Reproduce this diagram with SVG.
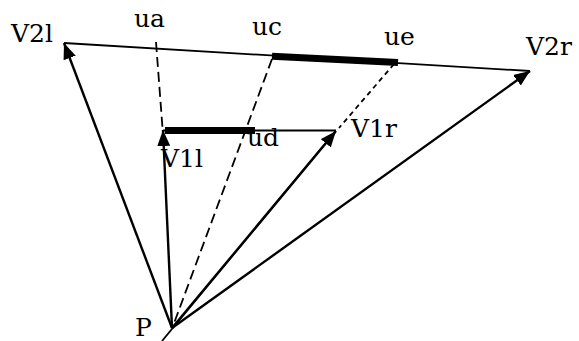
<svg xmlns="http://www.w3.org/2000/svg" width="579" height="341" viewBox="0 0 579 341">
  <style>
    text { font-family: "DejaVu Serif", "Liberation Serif", serif; font-size: 25px; fill: #000; }
    .thin { stroke: #000; stroke-width: 1.8; fill: none; }
    .arrow { stroke: #000; stroke-width: 2.4; fill: none; marker-end: url(#ah); }
    .thick { stroke: #000; stroke-width: 7; fill: none; stroke-linecap: butt; }
    .dashL { stroke: #000; stroke-width: 1.8; fill: none; stroke-dasharray: 10 5; }
    .dashS { stroke: #000; stroke-width: 1.8; fill: none; stroke-dasharray: 5 4; }
  </style>
  <defs>
    <marker id="ah" markerUnits="userSpaceOnUse" markerWidth="18" markerHeight="14" refX="16" refY="6.5" orient="auto">
      <path d="M0,0 L16,6.5 L0,13 z" fill="#000"/>
    </marker>
  </defs>
  <rect width="579" height="341" fill="#fff"/>
  <g id="connectors">
    <line class="thin" x1="64" y1="43" x2="530" y2="71"/>
    <line class="thick" x1="272" y1="56.3" x2="398" y2="62.5"/>
    <line class="thin" x1="163" y1="130.5" x2="336" y2="130.5"/>
    <line class="thick" x1="165" y1="130.5" x2="255" y2="130.5"/>
    <line class="dashL" x1="156" y1="42" x2="162.5" y2="128"/>
    <line class="dashL" x1="272" y1="59" x2="173" y2="326"/>
    <line class="dashS" x1="394" y1="64" x2="339" y2="128"/>
    <line class="thin" x1="162" y1="341" x2="334" y2="133"/>
    <line class="arrow" x1="172" y1="328" x2="64" y2="43"/>
    <line class="arrow" x1="172" y1="328" x2="163" y2="130"/>
    <line class="arrow" x1="172" y1="328" x2="336" y2="131"/>
    <line class="arrow" x1="172" y1="328" x2="530" y2="71"/>
  </g>
  <g id="node-V2l"><text x="11" y="42">V2l</text></g>
  <g id="node-ua"><text x="134" y="27">ua</text></g>
  <g id="node-uc"><text x="252" y="35">uc</text></g>
  <g id="node-ue"><text x="384" y="45">ue</text></g>
  <g id="node-V2r"><text x="526" y="55">V2r</text></g>
  <g id="node-V1r"><text x="351" y="137">V1r</text></g>
  <g id="node-ud"><text x="247" y="146">ud</text></g>
  <g id="node-V1l"><text x="161" y="167">V1l</text></g>
  <g id="node-P"><text x="135" y="336">P</text></g>
</svg>
